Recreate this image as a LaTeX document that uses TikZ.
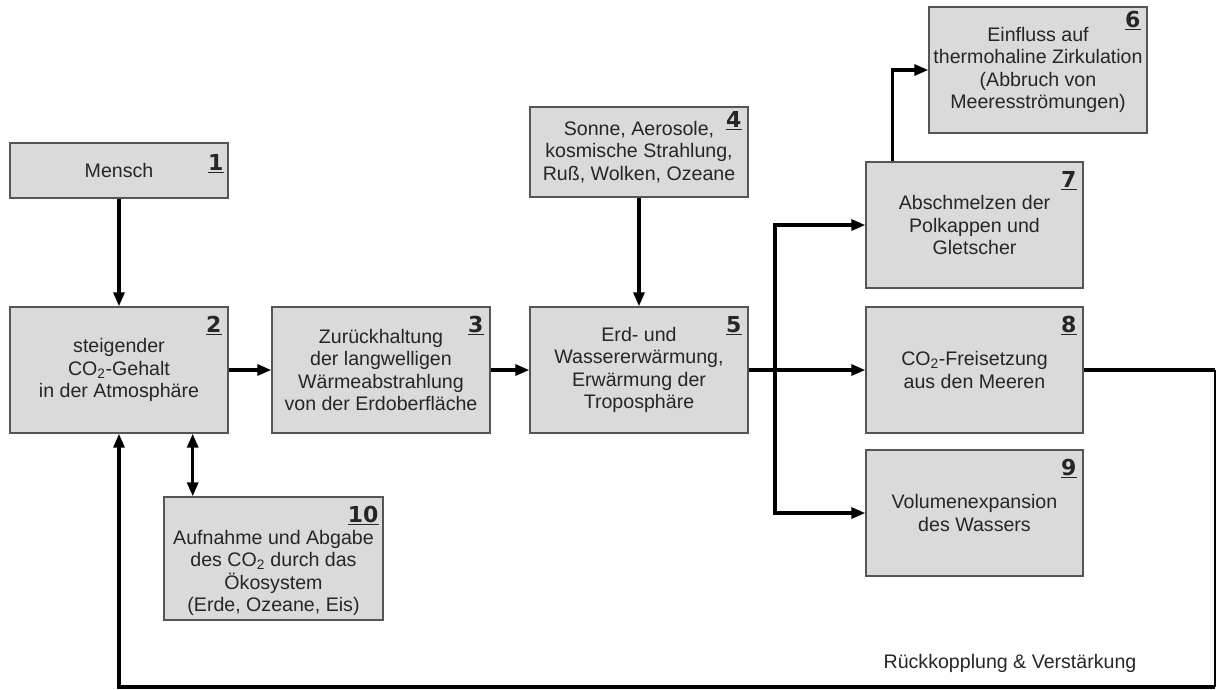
\documentclass[tikz,border=0pt]{standalone}
\usepackage{fontspec}
\setmainfont{Liberation Sans}
\newfontfamily\numfont{DejaVu Sans}
\usetikzlibrary{arrows.meta}
\definecolor{boxgray}{HTML}{DADADA}
\definecolor{boxline}{HTML}{555555}
\begin{document}
\begin{tikzpicture}[x=1pt, y=-1pt,
    box/.style = {draw=boxline, line width=1.4pt, fill=boxgray, minimum width=218pt, minimum height=126pt, inner sep=0pt, align=center, font=\fontsize{19.6}{22.6}\selectfont, text=black!85},
    txt/.style = {inner sep=0pt, align=center, font=\fontsize{19.6}{22.6}\selectfont, text=black!85},
    num/.style = {anchor=north east, inner sep=0pt, font=\numfont\bfseries\fontsize{22}{26}\selectfont, text=black!85},
    line/.style = {line width=3.2pt},
    arrow/.style = {line width=3.2pt, -{Triangle[length=14pt,width=11pt]}},
    dblarrow/.style = {line width=3.2pt, {Triangle[length=14pt,width=11pt]}-{Triangle[length=14pt,width=11pt]}}]
    \useasboundingbox (0,0) rectangle (1216,689);

    \node[box, minimum height=55pt] (b1) at (119,170.5) {Mensch};
    \node[box] (b2) at (119,370) {steigender\\CO\textsubscript{2}-Gehalt\\in der Atmosphäre};
    \node[box] (b3) at (381,370) {Zurückhaltung\\der langwelligen\\Wärmeabstrahlung\\von der Erdoberfläche};
    \node[box, minimum height=90pt] (b4) at (639,152) {Sonne, Aerosole,\\kosmische Strahlung,\\Ruß, Wolken, Ozeane};
    \node[box] (b5) at (639,370) {Erd- und\\Wassererwärmung,\\Erwärmung der\\Troposphäre};
    \node[box] (b6) at (1038,70) {Einfluss auf\\thermohaline Zirkulation\\(Abbruch von\\Meeresströmungen)};
    \node[box, minimum width=217pt] (b7) at (974.5,225) {Abschmelzen der\\Polkappen und\\Gletscher};
    \node[box, minimum width=217pt] (b8) at (974.5,370) {CO\textsubscript{2}-Freisetzung\\aus den Meeren};
    \node[box, minimum width=217pt] (b9) at (974.5,513) {Volumenexpansion\\des Wassers};
    \node[box, minimum width=219pt, minimum height=123pt] (b10) at (273.5,558.5) {};
    \node[txt] (t10) at (273.5,573) {Aufnahme und Abgabe\\des CO\textsubscript{2} durch das\\Ökosystem\\(Erde, Ozeane, Eis)};

    \node[num] (n1) at ([shift={(-5,12)}]b1.north east) {\underline{1}};
    \node[num] (n2) at ([shift={(-7,10)}]b2.north east) {\underline{2}};
    \node[num] (n3) at ([shift={(-7,10)}]b3.north east) {\underline{3}};
    \node[num] (n4) at ([shift={(-7,5)}]b4.north east) {\underline{4}};
    \node[num] (n5) at ([shift={(-7,10)}]b5.north east) {\underline{5}};
    \node[num] (n6) at ([shift={(-7,5)}]b6.north east) {\underline{6}};
    \node[num] (n7) at ([shift={(-7,10)}]b7.north east) {\underline{7}};
    \node[num] (n8) at ([shift={(-7,10)}]b8.north east) {\underline{8}};
    \node[num] (n9) at ([shift={(-7,10)}]b9.north east) {\underline{9}};
    \node[num] (n10) at ([shift={(-5,10)}]b10.north east) {\underline{10}};

    \coordinate (j) at (775,370);
    \coordinate (d1) at ([xshift=-36pt]b2.south east);
    \coordinate (f1) at (1215,370);
    \coordinate (f2) at (1215,687);
    \coordinate (f3) at (119,687);

    \draw[arrow] (b1) -- (b2);
    \draw[arrow] (b2) -- (b3);
    \draw[arrow] (b3) -- (b5);
    \draw[arrow] (b4) -- (b5);
    \draw[arrow] (b5) -- (b8);
    \draw[arrow] (j) |- (b7.west);
    \draw[arrow] (j) |- (b9.west);
    \draw[arrow] ([xshift=27pt]b7.north west) |- (b6.west);
    \draw[dblarrow] (d1) -- (d1 |- b10.north);
    \draw[line] (b8.east) -- (f1);
    \draw[line width=1.4pt] (f1) -- (f2);
    \draw[arrow] (f2) -- (f3) -- (b2.south);

    \node[txt] (lbl) at (1010,663) {Rückkopplung \& Verstärkung};
\end{tikzpicture}
\end{document}
